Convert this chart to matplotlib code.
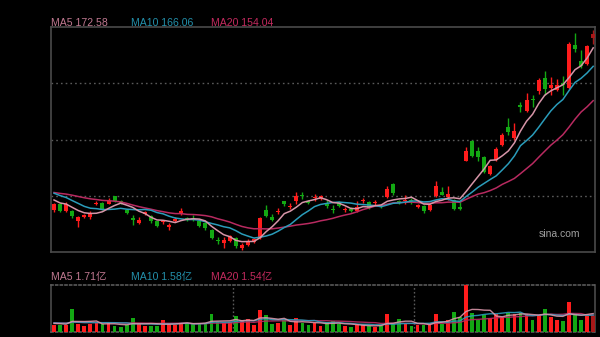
import matplotlib
matplotlib.use("Agg")
import matplotlib.pyplot as plt
import numpy as np
import pandas as pd

# ---- daily OHLC (90 sessions) ----
opens = [115.0, 117.1, 114.5, 114.5, 111.1, 112.5, 112.3, 117.1, 117.4, 117.1,
         119.8, 117.9, 115.0, 112.0, 110.3, 113.6, 112.7, 110.9, 110.5, 108.9,
         111.1, 114.0, 112.1, 112.1, 110.9, 110.3, 107.9, 104.4, 103.2, 103.8,
         105.0, 101.4, 102.6, 103.6, 105.0, 114.8, 112.4, 114.1, 118.0, 116.1,
         118.0, 120.4, 118.2, 119.2, 118.8, 117.1, 115.4, 117.7, 114.9, 115.4,
         114.7, 118.1, 117.7, 117.3, 116.5, 119.5, 124.2, 118.2, 118.0, 118.5,
         116.1, 116.5, 114.8, 119.8, 121.3, 119.6, 118.5, 116.1, 132.5, 139.5,
         136.0, 133.8, 127.7, 132.7, 138.0, 144.3, 140.4, 152.3, 150.1, 154.5,
         157.4, 161.8, 158.3, 157.6, 160.1, 158.2, 173.6, 168.0, 166.8, 176.0]
closes = [117.0, 114.7, 117.0, 112.7, 112.3, 113.0, 113.5, 117.4, 115.4, 118.2,
          118.2, 117.6, 113.9, 111.4, 111.5, 114.1, 110.9, 109.1, 110.8, 109.7,
          111.8, 114.5, 111.5, 111.6, 109.1, 108.5, 105.0, 103.8, 104.4, 105.6,
          102.0, 102.6, 104.0, 104.6, 112.1, 112.7, 111.5, 114.7, 117.2, 116.5,
          119.8, 119.8, 117.4, 119.7, 119.8, 116.3, 114.8, 116.3, 115.3, 114.7,
          115.9, 118.5, 115.6, 117.7, 115.9, 122.4, 121.0, 117.4, 118.5, 118.1,
          116.6, 114.7, 116.8, 123.4, 120.4, 120.5, 115.2, 115.2, 135.9, 134.1,
          133.9, 128.6, 130.6, 136.5, 141.5, 142.5, 143.0, 151.5, 154.0, 153.9,
          161.3, 158.0, 159.3, 159.3, 159.4, 173.8, 172.3, 166.2, 173.2, 177.4]
highs = [117.3, 117.5, 117.7, 114.8, 112.8, 113.6, 114.5, 118.1, 117.8, 119.3,
         120.0, 118.6, 115.3, 113.0, 112.4, 114.7, 113.3, 111.2, 111.5, 110.2,
         112.4, 115.5, 112.6, 113.0, 111.3, 110.8, 108.3, 105.5, 105.4, 106.0,
         105.4, 103.1, 104.5, 105.0, 112.5, 116.8, 113.6, 115.7, 118.3, 117.3,
         121.2, 121.2, 118.5, 120.5, 120.3, 118.4, 116.8, 118.0, 116.0, 115.9,
         118.2, 119.2, 118.0, 118.5, 116.8, 123.4, 124.5, 118.5, 120.1, 119.3,
         117.2, 116.8, 117.1, 125.1, 123.0, 123.5, 118.8, 117.9, 137.4, 139.8,
         137.4, 134.2, 131.0, 137.4, 142.2, 147.5, 146.0, 153.2, 156.4, 156.0,
         162.0, 164.5, 162.3, 161.5, 162.7, 174.8, 177.8, 171.8, 173.5, 178.8]
lows = [114.3, 114.2, 114.3, 112.1, 108.9, 112.0, 111.8, 116.7, 114.9, 116.9,
        117.8, 117.2, 113.5, 109.7, 109.8, 113.2, 110.4, 108.8, 109.8, 107.7,
        110.7, 113.2, 111.2, 110.9, 108.8, 107.9, 104.5, 103.0, 101.4, 103.4,
        101.6, 100.8, 102.2, 103.2, 104.6, 112.3, 111.2, 113.4, 116.2, 115.2,
        116.9, 119.0, 116.9, 118.3, 118.5, 115.6, 113.9, 116.0, 114.1, 114.4,
        114.4, 117.4, 115.2, 116.7, 115.5, 119.2, 120.4, 117.1, 117.1, 117.2,
        115.7, 113.8, 114.5, 119.4, 120.1, 118.5, 114.9, 114.9, 132.2, 133.8,
        132.4, 128.0, 127.3, 132.3, 137.7, 141.7, 140.0, 149.9, 149.7, 151.7,
        156.3, 155.8, 156.0, 157.3, 155.7, 157.8, 171.2, 165.3, 166.5, 173.8]

# closes of the sessions just before the window (feed the moving averages)
prior_closes = [121.0, 122.0, 120.5, 121.5, 122.0, 121.0, 122.5, 121.5, 120.5, 121.5,
                123.0, 124.0, 123.5, 122.5, 123.5, 120.0, 119.0, 118.5, 118.0]

# ---- daily volume, 亿 ----
volumes = [0.62, 0.68, 0.68, 2.14, 0.77, 0.59, 0.77, 0.84, 0.77, 0.84,
           0.59, 0.47, 0.68, 1.30, 0.77, 0.59, 0.59, 0.59, 1.09, 0.77,
           0.68, 0.84, 0.84, 0.77, 0.84, 0.84, 1.68, 0.93, 0.84, 0.90,
           1.46, 1.09, 1.21, 0.68, 2.08, 1.56, 0.77, 0.84, 1.09, 0.68,
           1.30, 0.84, 0.68, 0.84, 0.59, 0.93, 1.00, 0.77, 0.53, 0.47,
           0.68, 0.68, 0.59, 0.44, 0.59, 1.68, 0.77, 1.21, 0.77, 0.59,
           0.68, 0.68, 0.68, 1.71, 0.77, 1.15, 1.84, 1.37, 4.35, 1.77,
           1.10, 1.55, 1.30, 1.70, 1.40, 1.80, 1.70, 1.75, 1.70, 1.15,
           1.55, 2.15, 1.40, 1.10, 1.05, 2.80, 1.68, 1.15, 1.46, 1.46]
prior_volumes = [0.85, 0.80, 0.90, 0.85, 0.95, 0.80, 0.85, 0.90, 0.85, 0.80,
                 0.90, 0.85, 0.95, 0.90, 0.85, 0.80, 0.90, 0.85, 0.80]

ma_labels = ["MA5 172.58", "MA10 166.06", "MA20 154.04"]
vol_labels = ["MA5 1.71亿", "MA10 1.58亿", "MA20 1.54亿"]

price_grid = [120, 140, 160]
month_breaks = [29.5, 59.5]

# ---- styling ----
BG = "#000000"
UP = "#ff1c1c"
DOWN = "#13a813"
LAST = "#a81818"
FRAME = "#4a4a4a"
GRID = "#5a5a5a"
C_MA5 = "#d795a8"
C_MA10 = "#2a9cba"
C_MA20 = "#b82a60"
TXT5 = "#c07890"
TXT10 = "#2390ab"
TXT20 = "#c42a5e"
FONT = ["Liberation Sans", "Noto Sans CJK SC"]

n = len(closes)
x = np.arange(n)
o = np.array(opens); c = np.array(closes)
h = np.array(highs); l = np.array(lows)
v = np.array(volumes)

all_c = pd.Series(prior_closes + closes)
all_v = pd.Series(prior_volumes + volumes)
k = len(prior_closes)
ma = {p: all_c.rolling(p, min_periods=1).mean().values[k:] for p in (5, 10, 20)}
vma = {p: all_v.rolling(p, min_periods=1).mean().values[k:] for p in (5, 10, 20)}

up = c >= o
colors = np.where(up, UP, DOWN).astype(object)
colors[-1] = LAST

fig = plt.figure(figsize=(6.0, 3.37), dpi=100, facecolor=BG)
W, H = 600, 337
ax = fig.add_axes([51 / W, 1 - 252 / H, 544 / W, 225 / H], facecolor=BG)
axv = fig.add_axes([51 / W, 1 - 332 / H, 544 / W, 47 / H], facecolor=BG)

xlim = (-0.5, 89.3)

# price panel
for g in price_grid:
    ax.axhline(g, color=GRID, lw=1.0, ls=(0, (1.2, 2.2)), zorder=1)
ax.vlines(x, l, h, colors=list(colors), lw=1.0, zorder=3)
body_bottom = np.minimum(o, c)
body_h = np.maximum(np.abs(c - o), 0.4)
ax.bar(x, body_h, bottom=body_bottom, width=0.66, color=list(colors),
       linewidth=0, zorder=4)
ax.plot(x, ma[20], color=C_MA20, lw=1.1, zorder=5)
ax.plot(x, ma[10], color=C_MA10, lw=1.1, zorder=5)
ax.plot(x, ma[5], color=C_MA5, lw=1.1, zorder=6)
ax.set_xlim(*xlim)
ax.set_ylim(100, 180)
ax.set_xticks([]); ax.set_yticks([])
for s in ax.spines.values():
    s.set_color(FRAME); s.set_linewidth(1.2)
ax.text(0.972, 0.082, "sina.com", transform=ax.transAxes, ha="right",
        va="center", color="#a0a0a0", fontsize=7.5, family=FONT)

# volume panel
for b in month_breaks:
    axv.axvline(b, color=GRID, lw=1.0, ls=(0, (1.2, 1.6)), zorder=1)
axv.bar(x, v, width=0.62, color=list(colors), linewidth=0, zorder=3)
axv.plot(x, vma[20], color=C_MA20, lw=1.0, alpha=0.9, zorder=4)
axv.plot(x, vma[10], color=C_MA10, lw=1.0, alpha=0.9, zorder=4)
axv.plot(x, vma[5], color=C_MA5, lw=1.0, alpha=0.9, zorder=5)
axv.set_xlim(*xlim)
axv.set_ylim(0, 4.36)
axv.set_xticks([]); axv.set_yticks([])
for side, s in axv.spines.items():
    s.set_color(FRAME); s.set_linewidth(1.2)
    if side in ("top", "bottom"):
        s.set_linestyle((0, (1.2, 1.6)))
        s.set_color(GRID)

# legend texts
for xs, t, col in zip([51, 131, 211], ma_labels, [TXT5, TXT10, TXT20]):
    fig.text(xs / W, 1 - 22.5 / H, t, color=col, fontsize=7.6, family=FONT,
             ha="left", va="center")
for xs, t, col in zip([51, 131, 211], vol_labels, [TXT5, TXT10, TXT20]):
    fig.text(xs / W, 1 - 277 / H, t, color=col, fontsize=7.6, family=FONT,
             ha="left", va="center")

fig.savefig("out.png", dpi=100, facecolor=BG)
